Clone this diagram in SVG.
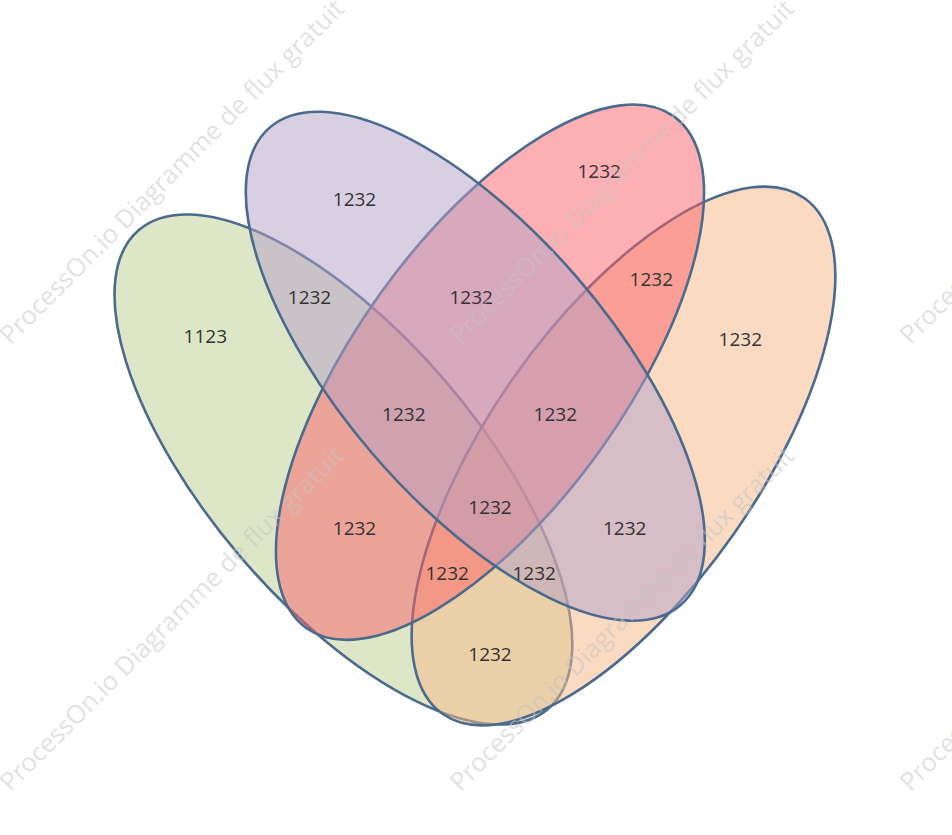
<svg xmlns="http://www.w3.org/2000/svg" width="952" height="835" viewBox="0 0 952 835">
<style>
.set{stroke:#4a6a8e;stroke-width:2.6;fill-opacity:0.5}
.lbl{font-family:"Open Sans","Noto Sans","DejaVu Sans",sans-serif;font-size:19px;fill:#333333;text-anchor:middle}
.wm{font-family:"Open Sans","Noto Sans","DejaVu Sans",sans-serif;font-size:25.5px;fill:#c4c4c4;fill-opacity:0.5;text-anchor:middle}
</style>
<rect width="952" height="835" fill="#ffffff"/>
<g id="set-green"><ellipse class="set" cx="0" cy="0" rx="315" ry="135" fill="#bdcd91" transform="translate(343.4 469.5) rotate(49.5)"/></g>
<g id="set-orange"><ellipse class="set" cx="0" cy="0" rx="315" ry="135" fill="#f5b785" transform="translate(623.5 456) rotate(-55)"/></g>
<g id="set-red"><ellipse class="set" cx="0" cy="0" rx="315" ry="135" fill="#fb6167" transform="translate(490 372.2) rotate(-54.3)"/></g>
<g id="set-purple"><ellipse class="set" cx="0" cy="0" rx="315" ry="135" fill="#b39fc7" transform="translate(475.3 366.2) rotate(49.3)"/></g>
<g id="labels">
<text class="lbl" x="205.3" y="342.7">1123</text>
<text class="lbl" x="354.5" y="206">1232</text>
<text class="lbl" x="599.2" y="177.7">1232</text>
<text class="lbl" x="309.5" y="304">1232</text>
<text class="lbl" x="471.2" y="304">1232</text>
<text class="lbl" x="651.3" y="286">1232</text>
<text class="lbl" x="740.3" y="345.7">1232</text>
<text class="lbl" x="403.8" y="421">1232</text>
<text class="lbl" x="555.3" y="421">1232</text>
<text class="lbl" x="490" y="514">1232</text>
<text class="lbl" x="354.5" y="535">1232</text>
<text class="lbl" x="624.7" y="535">1232</text>
<text class="lbl" x="447.2" y="580">1232</text>
<text class="lbl" x="534.2" y="580">1232</text>
<text class="lbl" x="490" y="660.7">1232</text>
</g>
<g id="watermark">
<text class="wm" transform="translate(178 178) rotate(-45)">ProcessOn.io Diagramme de flux gratuit</text>
<text class="wm" transform="translate(628 178) rotate(-45)">ProcessOn.io Diagramme de flux gratuit</text>
<text class="wm" transform="translate(1078 178) rotate(-45)">ProcessOn.io Diagramme de flux gratuit</text>
<text class="wm" transform="translate(178 625) rotate(-45)">ProcessOn.io Diagramme de flux gratuit</text>
<text class="wm" transform="translate(628 625) rotate(-45)">ProcessOn.io Diagramme de flux gratuit</text>
<text class="wm" transform="translate(1078 625) rotate(-45)">ProcessOn.io Diagramme de flux gratuit</text>
</g>
</svg>
